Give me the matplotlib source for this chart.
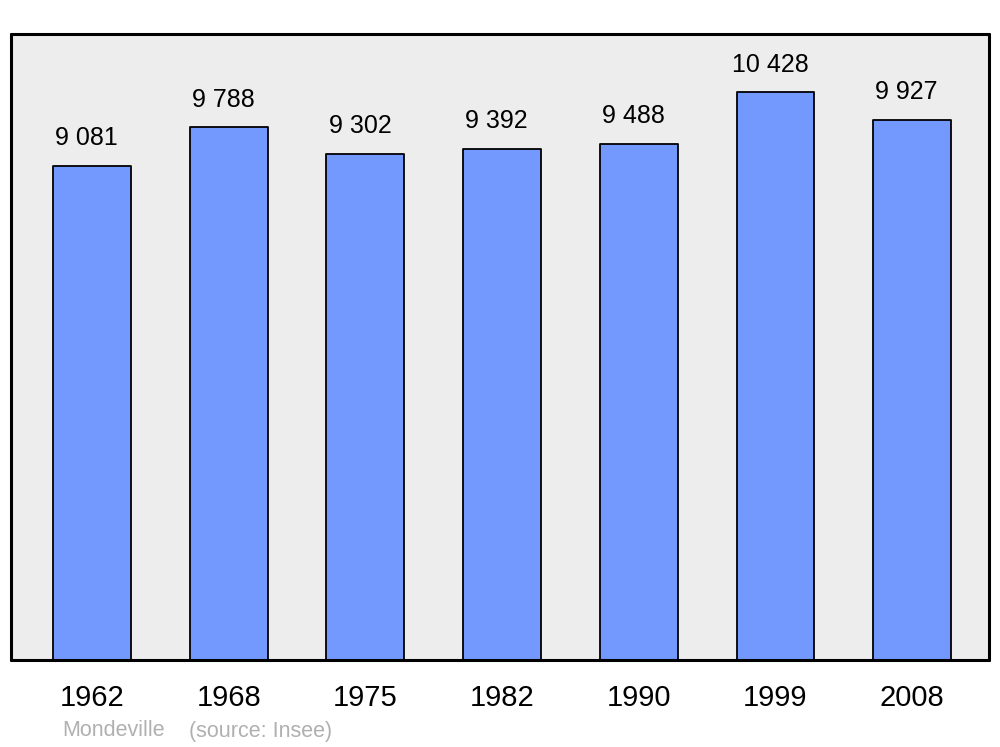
import matplotlib
matplotlib.use("Agg")
import matplotlib.pyplot as plt

years = ["1962", "1968", "1975", "1982", "1990", "1999", "2008"]
population = [9081, 9788, 9302, 9392, 9488, 10428, 9927]
labels = ["9 081", "9 788", "9 302", "9 392", "9 488", "10 428", "9 927"]

plt.rcParams['font.family'] = ['Liberation Sans', 'DejaVu Sans']

fig = plt.figure(figsize=(10, 7.47), dpi=100)
ax = fig.add_axes([11/1000, (747-660)/747, 978/1000, 626/747])
ax.set_facecolor("#ededed")
x = list(range(len(years)))
ax.bar(x, population, width=0.57, color="#7399ff", edgecolor="black", linewidth=1.3,
       joinstyle="round", zorder=2)
for xi, v, lab in zip(x, population, labels):
    ax.annotate(lab, (xi, v), xytext=(-4, 11), textcoords="offset points",
                ha="center", va="bottom", fontsize=18, color="black")
ax.set_xlim(-0.593, 6.562)
ax.set_ylim(0, 11500)
ax.set_yticks([])
ax.set_xticks(x)
ax.set_xticklabels(years, fontsize=21)
ax.tick_params(axis="x", length=0, pad=17)
for s in ax.spines.values():
    s.set_linewidth(2.2)
    s.set_capstyle("round")
fig.text(62/1000, 1 - 731/747, "Mondeville", color="#b0b0b0", fontsize=15.5, va="center")
fig.text(189/1000, 1 - 731/747, "(source: Insee)", color="#b0b0b0", fontsize=15.5, va="center")
fig.savefig("out.png", dpi=100)
